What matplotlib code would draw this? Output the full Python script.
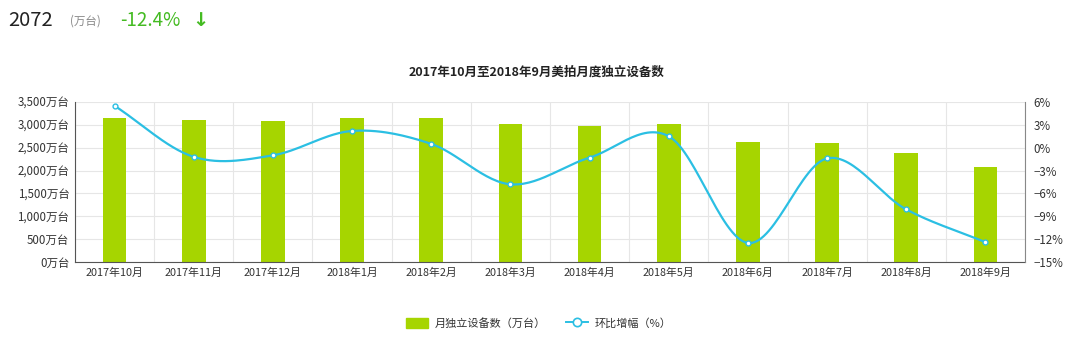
import numpy as np
import matplotlib
matplotlib.use("Agg")
import matplotlib.pyplot as plt
from matplotlib.lines import Line2D
from matplotlib.patches import Patch

plt.rcParams['font.family'] = ['Noto Sans CJK SC', 'DejaVu Sans']

months = ["2017年10月", "2017年11月", "2017年12月", "2018年1月", "2018年2月", "2018年3月",
          "2018年4月", "2018年5月", "2018年6月", "2018年7月", "2018年8月", "2018年9月"]
devices = [3150, 3110, 3080, 3145, 3160, 3010, 2975, 3010, 2630, 2595, 2380, 2072]
growth = [5.5, -1.2, -1.0, 2.2, 0.5, -4.8, -1.3, 1.5, -12.5, -1.4, -8.1, -12.4]
left_ticks = [0, 500, 1000, 1500, 2000, 2500, 3000, 3500]
right_ticks = [-15, -12, -9, -6, -3, 0, 3, 6]

BAR = "#a6d500"
LINE = "#2bbfe3"
TXT = "#333333"

fig = plt.figure(figsize=(10.8, 3.41), dpi=100)
ax = fig.add_axes([75/1080, 1-262/341, 950/1080, 160/341])
ax2 = ax.twinx()

x = np.arange(len(months))
ax.bar(x, devices, width=0.30, color=BAR, zorder=2)
ax.set_xlim(-0.5, len(months) - 0.5)
ax.set_ylim(0, 3500)
ax.set_yticks(left_ticks)
ax.set_yticklabels([f"{v:,}万台" for v in left_ticks], fontsize=8.3, color=TXT)
ax.set_xticks(x)
ax.set_xticklabels(months, fontsize=7.8, color=TXT)
ax.tick_params(axis='both', length=0, pad=4)
ax.set_xticks(np.arange(-0.5, len(months)), minor=True)
ax.tick_params(axis='x', which='minor', length=0)
ax.grid(False)
ax.yaxis.grid(True, color="#e6e6e6", lw=0.8, zorder=0)
ax.xaxis.grid(True, which='minor', color="#e6e6e6", lw=0.8, zorder=0)
ax.set_axisbelow(True)
ax.spines['top'].set_visible(False)
ax2.spines['top'].set_visible(False)
ax.spines['left'].set_color("#555555")
ax.spines['bottom'].set_color("#555555")
ax.spines['right'].set_visible(False)
ax2.spines['left'].set_visible(False)
ax2.spines['bottom'].set_visible(False)
ax2.spines['right'].set_color("#888888")

# smooth curve through the points (Catmull-Rom rendering)
def catmull(xs, ys, n=30):
    xs = np.asarray(xs, float); ys = np.asarray(ys, float)
    px = np.concatenate([[2*xs[0]-xs[1]], xs, [2*xs[-1]-xs[-2]]])
    py = np.concatenate([[2*ys[0]-ys[1]], ys, [2*ys[-1]-ys[-2]]])
    ox, oy = [], []
    for i in range(1, len(px)-2):
        t = np.linspace(0, 1, n, endpoint=False)
        for arr, out in ((px, ox), (py, oy)):
            p0, p1, p2, p3 = arr[i-1], arr[i], arr[i+1], arr[i+2]
            out.extend(0.5*((2*p1) + (-p0+p2)*t + (2*p0-5*p1+4*p2-p3)*t**2 + (-p0+3*p1-3*p2+p3)*t**3))
    ox.append(xs[-1]); oy.append(ys[-1])
    return np.array(ox), np.array(oy)

sx, sy = catmull(x, growth)
ax2.plot(sx, sy, color=LINE, lw=1.6, zorder=3)
ax2.plot(x, growth, ls='none', marker='o', ms=3.5, mfc='white', mec=LINE, mew=1.0, zorder=4)
ax2.set_ylim(-15, 6)
ax2.set_yticks(right_ticks)
ax2.set_yticklabels([(f"−{abs(v)}%" if v < 0 else f"{v}%") for v in right_ticks], fontsize=8.3, color=TXT)
ax2.tick_params(axis='y', length=0, pad=6)

fig.text(537/1080, 1-72/341, "2017年10月至2018年9月美拍月度独立设备数", ha='center', va='center',
         fontsize=9, fontweight='bold', color="#222222")

# header
fig.text(8/1080, 1-20/341, "2072", ha='left', va='center', fontsize=14.5, color="#222222",
         fontweight='medium')
fig.text(70/1080, 1-21/341, "(万台)", ha='left', va='center', fontsize=8.3, color="#888888")
fig.text(120/1080, 1-20/341, "-12.4%", ha='left', va='center', fontsize=13.5, color="#44bb22",
         fontweight='medium')
fig.text(192/1080, 1-20/341, "↓", ha='left', va='center', fontsize=14, color="#44bb22",
         fontweight='bold', family=['DejaVu Sans'])

handles = [Patch(facecolor=BAR, edgecolor=BAR),
           Line2D([0], [0], color=LINE, lw=1.4, marker='o', ms=6, mfc='white', mec=LINE, mew=1.2)]
fig.legend(handles, ["月独立设备数（万台）", "环比增幅（%）"], loc='center', ncol=2,
           bbox_to_anchor=(539/1080, 1-323/341), frameon=False, fontsize=8,
           handlelength=2.0, handleheight=1.0, columnspacing=1.8, handletextpad=0.6,
           labelcolor=TXT)

fig.savefig("out.png", dpi=100)
